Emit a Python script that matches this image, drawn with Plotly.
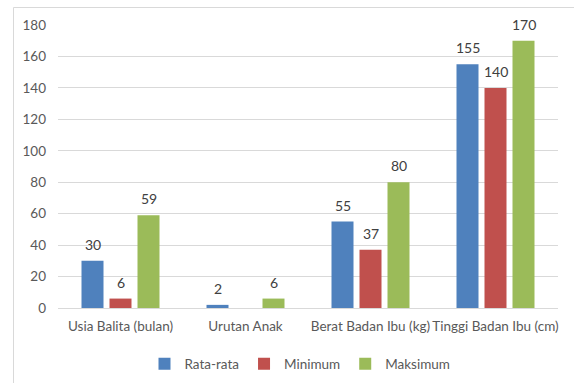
import plotly.graph_objects as go

categories = ["Usia Balita (bulan)", "Urutan Anak", "Berat Badan Ibu (kg)", "Tinggi Badan Ibu (cm)"]
rata_rata = [30, 2, 55, 155]
minimum = [6, None, 37, 140]
maksimum = [59, 6, 80, 170]
series_names = ["Rata-rata", "Minimum", "Maksimum"]
colors = ["#4F81BD", "#C0504D", "#9BBB59"]
y_ticks = [0, 20, 40, 60, 80, 100, 120, 140, 160, 180]

FONT = "Lato"
W, H = 574, 383
L, R, T, B = 58, 16, 25, 75
PW, PH = W - L - R, H - T - B
BARGAP, GROUPGAP = 0.328, 0.214
pitch = PW / len(categories) * (1 - BARGAP) / len(series_names)

fig = go.Figure()
annotations = []
all_series = [rata_rata, minimum, maksimum]
for i, (name, vals, col) in enumerate(zip(series_names, all_series, colors)):
    fig.add_trace(go.Bar(
        x=categories, y=vals, name=name, marker=dict(color=col, line=dict(width=0)),
        showlegend=False, hoverinfo="x+y+name",
    ))
    fig.add_trace(go.Scatter(
        x=[None], y=[None], mode="markers", name=name,
        marker=dict(symbol="square", size=7, color=col), showlegend=True,
    ))
    for cat, v in zip(categories, vals):
        if v is None:
            continue
        annotations.append(dict(
            x=cat, y=v, xref="x", yref="y", text=str(v), showarrow=False,
            xanchor="center", yanchor="bottom",
            xshift=(i - (len(series_names) - 1) / 2) * pitch, yshift=6,
            font=dict(family=FONT, size=14, color="#404040"),
        ))

fig.update_layout(
    width=W, height=H,
    margin=dict(l=L, r=R, t=T, b=B, autoexpand=False),
    paper_bgcolor="white", plot_bgcolor="white",
    barmode="group", bargap=BARGAP, bargroupgap=GROUPGAP,
    font=dict(family=FONT, size=13, color="#595959"),
    legend=dict(orientation="h", x=0.5 - 8 / PW, xanchor="center",
                y=-(364 - (T + PH)) / PH, yanchor="middle",
                font=dict(family=FONT, size=13.5, color="#595959"),
                itemwidth=30, tracegroupgap=0, itemsizing="constant"),
    xaxis=dict(showgrid=False, showline=False, ticks="", ticklabelstandoff=8,
               tickfont=dict(family=FONT, size=13.5, color="#595959")),
    yaxis=dict(range=[0, 180], tickvals=y_ticks, showgrid=True, gridcolor="#D9D9D9",
               gridwidth=1, zeroline=True, zerolinecolor="#D9D9D9", zerolinewidth=1,
               showline=False, ticks="", ticklabelstandoff=11,
               tickfont=dict(family=FONT, size=13.5, color="#595959")),
    annotations=annotations,
    shapes=[
        dict(type="line", xref="paper", yref="paper", layer="below",
             x0=-(L - 13.5) / PW, x1=-(L - 13.5) / PW,
             y0=-(B + 5) / PH, y1=1 + (T - 7.5) / PH,
             line=dict(color="#D9D9D9", width=1)),
        dict(type="line", xref="paper", yref="paper", layer="below",
             x0=-(L - 13.5) / PW, x1=1 + (R + 5) / PW,
             y0=1 + (T - 7.5) / PH, y1=1 + (T - 7.5) / PH,
             line=dict(color="#D9D9D9", width=1)),
    ],
)
fig.write_html("out.html")
